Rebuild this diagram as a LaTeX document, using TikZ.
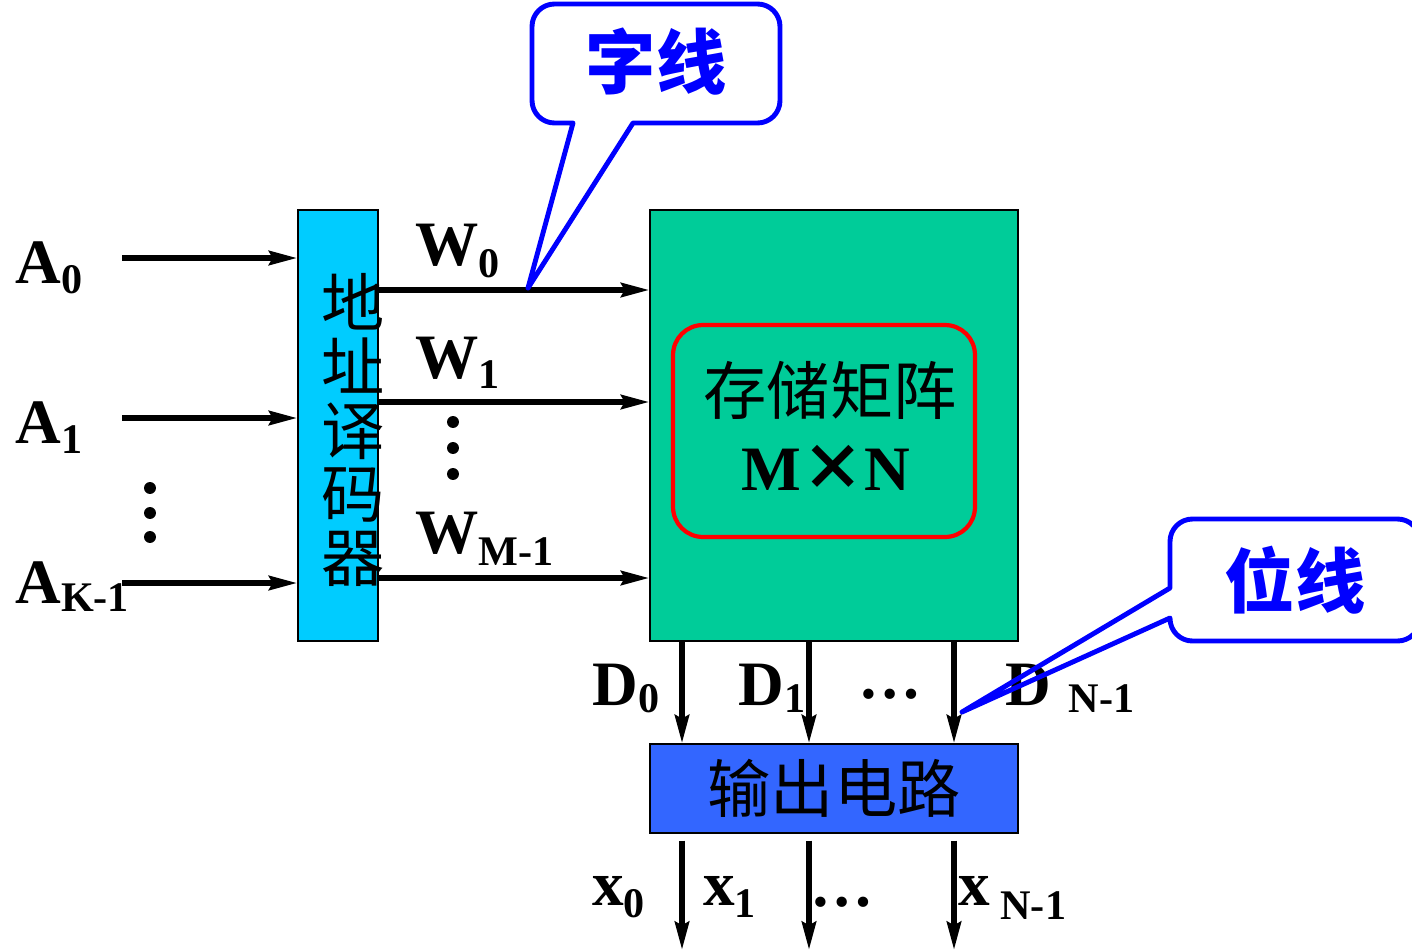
\documentclass[tikz,border=0pt]{standalone}
\usepackage{fontspec}
\setmainfont{Liberation Serif}
\newfontfamily\cjk{Noto Sans CJK SC}
\usetikzlibrary{arrows.meta,positioning}
\definecolor{deccyan}{HTML}{00CCFF}
\definecolor{arraygreen}{HTML}{00CC99}
\definecolor{outblue}{HTML}{3366FF}
\tikzset{
  blk/.style={draw=black, line width=0.8pt, inner sep=0pt},
  sigarrow/.style={-{Stealth[length=16pt,width=8pt,inset=2pt]}, line width=3.2pt},
  sig/.style={font=\fontsize{36}{36}\selectfont\bfseries, inner sep=0pt, anchor=base west},
  cjklab/.style={font=\cjk\fontsize{36}{36.3}\selectfont, inner sep=0pt, align=center},
  callout/.style={draw=blue, line width=2.8pt, line join=round},
  calltext/.style={font=\cjk\bfseries\fontsize{40}{40}\selectfont, text=blue, inner sep=0pt}
}
\newcommand{\subs}[2][6pt]{\raisebox{-#1}{\fontsize{24}{24}\selectfont #2}}

\begin{document}
\begin{tikzpicture}[x=0.02cm, y=-0.02cm]
\clip (0,0) rectangle (1412,950);
% blocks
\node[blk, fill=deccyan, minimum width=1.6cm, minimum height=8.62cm] (dec) at (338,425.5) {};
\node[blk, fill=arraygreen, minimum width=7.36cm, minimum height=8.62cm] (mem) at (834,425.5) {};
\node[blk, fill=outblue, minimum width=7.36cm, minimum height=1.78cm, font=\cjk\fontsize{36}{36}\selectfont] (out) at (834,788.5) {输出电路};
\node[draw=red, line width=2.4pt, rounded corners=0.6cm, minimum width=6.04cm, minimum height=4.24cm] (core) at (824,431) {};
\node[cjklab] (corename) at (830,390) {存储矩阵};
\node[sig, anchor=center] (coresize) at (826,468) {M{\cjk\fontsize{36}{36}\selectfont ×}N};

% address inputs
\foreach \y/\n in {258/0,418/1,583/2} {
  \coordinate (in\n) at (122,\y);
  \draw[sigarrow] (in\n) -- (in\n -| dec.west);
}
% word lines
\foreach \y in {290,402,578}
  \draw[sigarrow] (dec.east |- 0,\y) -- (mem.west |- 0,\y);
% bit lines and outputs
\foreach \x/\n in {682/0,809/1,954/2} {
  \draw[sigarrow] (mem.south -| \x,0) -- (out.north -| \x,0);
  \coordinate (x\n) at (\x,950);
  \draw[sigarrow, shorten <=4pt] (out.south -| \x,0) -- (x\n);
}
\node[cjklab] (decname) at (353,430) {地\\址\\译\\码\\器};

% labels
\node[sig] (la0) at (15,283) {A\subs{0}};
\node[sig] (la1) at (15,443) {A\subs{1}};
\node[sig] (lak) at (15,603) {A\subs[5pt]{K-1}};
\node[sig] (lw0) at (415,265) {W\subs[7pt]{0}};
\node[sig] (lw1) at (415,378) {W\subs{1}};
\node[sig] (lwm) at (415,553) {W\subs[7pt]{M-1}};
\node[sig] (ld0) at (592,705) {D\subs[4pt]{0}};
\node[sig] (ld1) at (738,705) {D\subs[4pt]{1}};
\node[sig] (ldn) at (1005,705) {D\hspace{10pt}\subs[4pt]{N-1}};
\node[sig] (ddots) at (858,698) {\ldots};
\node[sig] (lx0) at (592,905) {x\subs[7pt]{0}};
\node[sig] (lx1) at (703,905) {x\subs[7pt]{1}};
\node[sig] (lxn) at (958,905) {x\hspace{6pt}\subs[8pt]{N-1}};
\node[sig] (xdots) at (810,906) {\ldots};
\foreach \y in {488,513,537} \fill (150,\y) circle[radius=3.4pt];
\foreach \y in {422,448,474} \fill (453,\y) circle[radius=3.4pt];

% callouts
\draw[callout] (528,288) -- (633,123) {[rounded corners=0.45cm] -- (780,123) -- (780,4) -- (532,4) -- (532,123)} -- (573,123) -- cycle;
\node[calltext] (wordtag) at (656,62) {字线};
\draw[callout] (962,712) -- (1170,588) {[rounded corners=0.45cm] -- (1170,519) -- (1420,519) -- (1420,641) -- (1170,641)} -- (1170,618) -- cycle;
\node[calltext] (bittag) at (1295,580) {位线};
\end{tikzpicture}
\end{document}
